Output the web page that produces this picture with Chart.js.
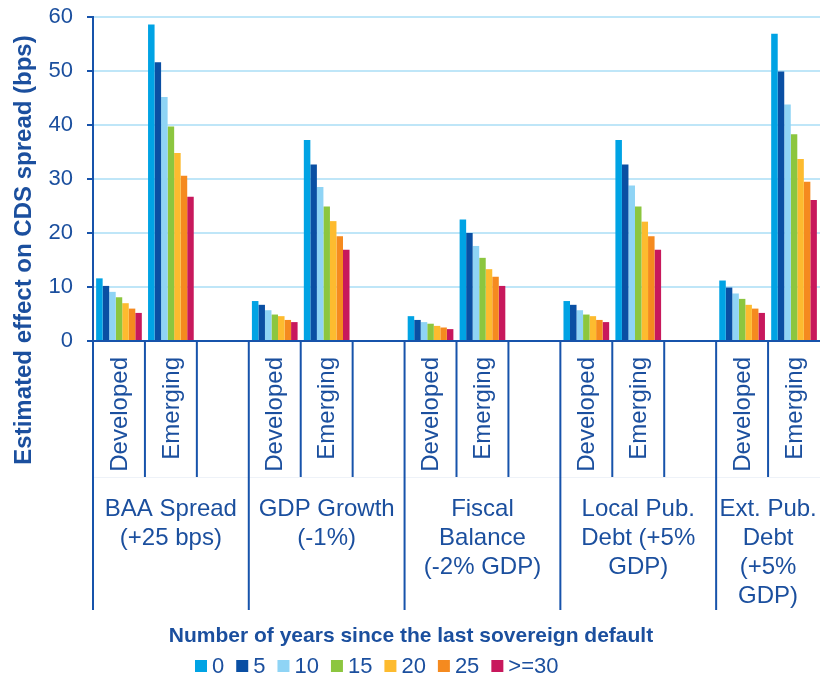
<!DOCTYPE html>
<html>
<head>
<meta charset="utf-8">
<script src="https://cdn.jsdelivr.net/npm/chart.js@4.4.1/dist/chart.umd.min.js"></script>
<style>
  html, body { margin: 0; padding: 0; background: #fff; }
  canvas { display: block; }
</style>
</head>
<body>
<canvas id="cdsChart" width="820" height="681"></canvas>
<script>
// Shock variables, each split into developed / emerging economies
const groups = [
    ['BAA Spread', '(+25 bps)'],
    ['GDP Growth', '(-1%)'],
    ['Fiscal', 'Balance', '(-2% GDP)'],
    ['Local Pub.', 'Debt (+5%', 'GDP)'],
    ['Ext. Pub.', 'Debt', '(+5%', 'GDP)'],
];
const markets = ['Developed', 'Emerging'];
const yearLabels = ['0', '5', '10', '15', '20', '25', '>=30'];
const yTicks = [0, 10, 20, 30, 40, 50, 60];

// Effect on CDS spread (bps); null = empty gap between groups
const years0  = [11.6, 58.6, null, 7.4, 37.2, null, 4.6, 22.5, null, 7.4, 37.2, null, 11.2, 56.9];
const years5  = [10.2, 51.6, null, 6.7, 32.7, null, 3.9, 20.0, null, 6.7, 32.7, null, 9.9, 49.9];
const years10 = [9.1, 45.2, null, 5.7, 28.5, null, 3.5, 17.6, null, 5.7, 28.8, null, 8.8, 43.8];
const years15 = [8.1, 39.7, null, 4.9, 24.9, null, 3.2, 15.4, null, 4.9, 24.9, null, 7.8, 38.3];
const years20 = [7.0, 34.8, null, 4.6, 22.2, null, 2.8, 13.3, null, 4.6, 22.1, null, 6.7, 33.7];
const years25 = [6.0, 30.6, null, 3.9, 19.4, null, 2.5, 11.9, null, 3.9, 19.4, null, 6.0, 29.5];
const years30 = [5.2, 26.7, null, 3.5, 16.9, null, 2.2, 10.2, null, 3.5, 16.9, null, 5.2, 26.1];

const seriesValues = [years0, years5, years10, years15, years20, years25, years30];
const seriesColors = ['#00a3e4', '#0a4fa3', '#8fd4f5', '#8cc63f', '#fdbb2f', '#f58a1f', '#c8185c'];

const TEXT = '#1b4f9e';
const AXIS = '#1753ab';
const FONT = "'Liberation Sans', Arial, sans-serif";

// one category per market, plus a blank spacer after every group but the last
const categories = [];
const groupStart = [];
groups.forEach((g, i) => {
    groupStart.push(categories.length);
    markets.forEach(m => categories.push(m));
    if (i < groups.length - 1) categories.push('');
});

const axisDecor = {
    id: 'axisDecor',
    afterDraw(chart) {
        const ctx = chart.ctx;
        const x = chart.scales.x;
        const area = chart.chartArea;
        const n = categories.length;
        const step = (area.right - area.left) / n;
        const edge = i => area.left + i * step;

        ctx.save();

        // faint line under the market labels
        ctx.strokeStyle = '#eef2f8';
        ctx.lineWidth = 1;
        ctx.beginPath();
        ctx.moveTo(area.left, 477.5);
        ctx.lineTo(area.right, 477.5);
        ctx.stroke();

        // separators: long ones between groups, short ones between categories
        ctx.strokeStyle = AXIS;
        ctx.lineWidth = 2;
        for (let i = 0; i < n; i++) {
            const long = groupStart.includes(i);
            ctx.beginPath();
            ctx.moveTo(edge(i), area.bottom);
            ctx.lineTo(edge(i), long ? 610 : 477);
            ctx.stroke();
        }

        // rotated market labels
        ctx.fillStyle = TEXT;
        ctx.font = '24px ' + FONT;
        categories.forEach((label, i) => {
            if (!label) return;
            ctx.save();
            ctx.translate(x.getPixelForValue(i) + 1, 357);
            ctx.rotate(-Math.PI / 2);
            ctx.textAlign = 'right';
            ctx.textBaseline = 'middle';
            ctx.fillText(label, 0, 0);
            ctx.restore();
        });

        // group names
        ctx.textAlign = 'center';
        ctx.textBaseline = 'middle';
        groups.forEach((lines, g) => {
            const from = edge(groupStart[g]);
            const to = edge(groupStart[g] + markets.length + (g < groups.length - 1 ? 1 : 0));
            const cx = (from + to) / 2;
            lines.forEach((line, k) => ctx.fillText(line, cx, 509 + k * 29));
        });

        // y axis title
        ctx.save();
        ctx.font = 'bold 24px ' + FONT;
        ctx.translate(24, 250);
        ctx.rotate(-Math.PI / 2);
        ctx.fillText('Estimated effect on CDS spread (bps)', 0, 0);
        ctx.restore();

        // legend title
        ctx.font = 'bold 21px ' + FONT;
        ctx.fillText('Number of years since the last sovereign default', 411, 636);

        // legend
        ctx.font = '22px ' + FONT;
        ctx.textAlign = 'left';
        let lx = 195;
        yearLabels.forEach((label, i) => {
            ctx.fillStyle = seriesColors[i];
            ctx.fillRect(lx, 660, 12, 12);
            ctx.fillStyle = TEXT;
            ctx.fillText(label, lx + 17, 667);
            lx += 17 + ctx.measureText(label).width + 12;
        });

        ctx.restore();
    }
};

new Chart(document.getElementById('cdsChart'), {
    type: 'bar',
    data: {
        labels: categories,
        datasets: yearLabels.map((label, i) => ({
            label: label,
            data: seriesValues[i],
            backgroundColor: seriesColors[i],
            borderWidth: 0,
            barPercentage: 1,
            categoryPercentage: 0.88,
        })),
    },
    options: {
        responsive: false,
        animation: false,
        layout: { padding: { top: 17, right: 0, bottom: 0, left: 0 } },
        plugins: {
            legend: { display: false },
            tooltip: { enabled: false },
        },
        scales: {
            x: {
                ticks: { display: false },
                grid: { display: false },
                border: { color: AXIS, width: 2 },
                afterFit(scale) {
                    scale.height = 340;
                    scale.paddingLeft = 0;
                    scale.paddingRight = 0;
                },
            },
            y: {
                min: 0,
                max: 60,
                afterBuildTicks(scale) { scale.ticks = yTicks.map(v => ({ value: v })); },
                ticks: {
                    color: TEXT,
                    font: { family: FONT, size: 22 },
                    padding: 14,
                },
                grid: {
                    color: '#bfe6f8',
                    lineWidth: 2,
                    tickLength: 6,
                    tickColor: AXIS,
                },
                border: { color: AXIS, width: 2 },
                afterFit(scale) {
                    scale.width = 93;
                    scale.paddingTop = 0;
                    scale.paddingBottom = 0;
                },
            },
        },
    },
    plugins: [axisDecor],
});
</script>
</body>
</html>
